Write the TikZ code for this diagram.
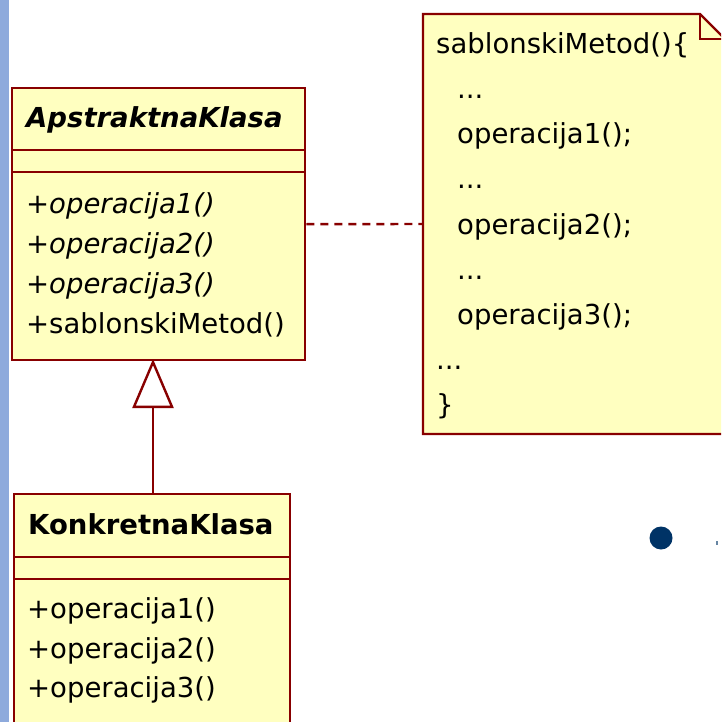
\documentclass[tikz,border=0pt]{standalone}
\usepackage{fontspec}
\setmainfont{DejaVu Sans}
\usetikzlibrary{arrows.meta}
\definecolor{umlred}{RGB}{136,0,0}
\definecolor{umlfill}{RGB}{255,255,192}
\definecolor{stripblue}{RGB}{142,170,220}
\definecolor{bulletblue}{RGB}{0,51,102}
\tikzset{
  umlbox/.style={draw=umlred, fill=umlfill, line width=2.4pt, inner sep=0pt},
  sep/.style={draw=umlred, line width=2.4pt},
  txt/.style={anchor=base west, inner sep=0pt, font=\fontsize{27.5}{33}\selectfont},
  itxt/.style={txt, font=\fontsize{27.5}{33}\selectfont\itshape},
  btxt/.style={txt, font=\fontsize{27.5}{33}\selectfont\bfseries},
  bitxt/.style={txt, font=\fontsize{27.5}{33}\selectfont\bfseries\itshape},
  inherit/.style={draw=umlred, line width=2.4pt, -{Triangle[open, length=49pt, width=41pt, fill=white]}},
  notelink/.style={draw=umlred, line width=2.4pt, dash pattern=on 8pt off 6pt}
}
\begin{document}
\begin{tikzpicture}[x=1pt,y=1pt]
\useasboundingbox (0,0) rectangle (721,-722);
\clip (0,0) rectangle (721,-722);
\fill[white] (0,0) rectangle (721,-722);
\fill[stripblue] (0,0) rectangle (8.5,-722);

% abstract class
\node[umlbox, minimum width=293pt, minimum height=272pt, anchor=north west] (abs) at (11,-87) {};
\draw[sep] (11,-150) -- (304,-150);
\draw[sep] (11,-172) -- (304,-172);
\node[bitxt] (absname) at (26,-128) {ApstraktnaKlasa};
\node[itxt] (a1) at (26,-213) {+operacija1()};
\node[itxt] (a2) at (26,-253) {+operacija2()};
\node[itxt] (a3) at (26,-293) {+operacija3()};
\node[txt] (a4) at (26,-333) {+sablonskiMetod()};

% concrete class
\node[umlbox, minimum width=276pt, minimum height=260pt, anchor=north west] (conc) at (13,-493) {};
\draw[sep] (13,-557) -- (289,-557);
\draw[sep] (13,-579) -- (289,-579);
\node[btxt] (concname) at (28,-534) {KonkretnaKlasa};
\node[txt] (c1) at (27,-618) {+operacija1()};
\node[txt] (c2) at (27,-658) {+operacija2()};
\node[txt] (c3) at (27,-697) {+operacija3()};

% inheritance
\coordinate (apex) at (153,-359);
\draw[inherit] (conc.north -| apex) -- (apex);

% note
\coordinate (notew) at (423,-224);
\filldraw[draw=umlred, fill=umlfill, line width=2.4pt]
  (423,-14) -- (700,-14) -- (726,-40) -- (726,-434) -- (423,-434) -- cycle;
\draw[draw=umlred, line width=2.4pt] (700,-14) -- (700,-39) -- (726,-39);
\node[txt] (n1) at (436,-54) {sablonskiMetod()\{};
\node[txt] (n2) at (457,-99) {...};
\node[txt] (n3) at (457,-144) {operacija1();};
\node[txt] (n4) at (457,-189) {...};
\node[txt] (n5) at (457,-234) {operacija2();};
\node[txt] (n6) at (457,-279) {...};
\node[txt] (n7) at (457,-324) {operacija3();};
\node[txt] (n8) at (436,-369) {...};
\node[txt] (n9) at (436,-414) {\}};

\draw[notelink] (abs.east) -- (notew);

% bullet
\fill[bulletblue] (661,-538) circle (11.5);
\fill[bulletblue!60!white] (716,-540.5) rectangle (717.5,-545);
\end{tikzpicture}
\end{document}
